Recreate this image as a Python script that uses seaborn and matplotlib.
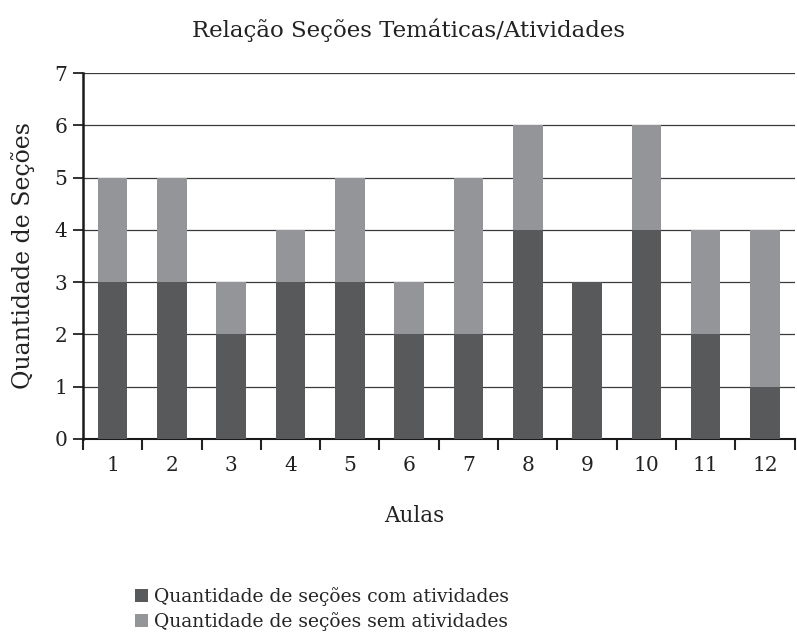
import matplotlib
matplotlib.use("Agg")
import matplotlib.pyplot as plt
import seaborn as sns
import pandas as pd
from matplotlib.patches import Patch

aulas = ["1", "2", "3", "4", "5", "6", "7", "8", "9", "10", "11", "12"]
com_atividades = [3, 3, 2, 3, 3, 2, 2, 4, 3, 4, 2, 1]
sem_atividades = [2, 2, 1, 1, 2, 1, 3, 2, 0, 2, 2, 3]
yticks = [0, 1, 2, 3, 4, 5, 6, 7]

title = "Relação Seções Temáticas/Atividades"
xlabel = "Aulas"
ylabel = "Quantidade de Seções"
leg_com = "Quantidade de seções com atividades"
leg_sem = "Quantidade de seções sem atividades"

dark = "#58595b"
light = "#939598"

sns.set_theme(style="white")
plt.rcParams["font.family"] = ["DejaVu Serif"]

df = pd.DataFrame({
    "aula": aulas,
    "com": com_atividades,
    "total": [a + b for a, b in zip(com_atividades, sem_atividades)],
})

fig = plt.figure(figsize=(7.97, 6.36), dpi=100)
ax = fig.add_axes([0.104, 0.31, 0.893, 0.575])

sns.barplot(data=df, x="aula", y="total", order=aulas, color=light,
            saturation=1, width=0.5, ax=ax, zorder=3, linewidth=0, edgecolor="none")
sns.barplot(data=df, x="aula", y="com", order=aulas, color=dark,
            saturation=1, width=0.5, ax=ax, zorder=4, linewidth=0, edgecolor="none")

ax.set_ylim(0, 7)
ax.set_xlim(-0.5, 11.5)
ax.set_yticks(yticks)
ax.set_yticklabels([str(v) for v in yticks], fontsize=14.5, color="#222222")
ax.yaxis.grid(True, color="#3a3a3a", linewidth=0.9, zorder=0)
ax.set_axisbelow(True)

# x ticks at category boundaries, labels centered
ax.set_xticks([i + 0.5 for i in range(-1, 12)], minor=False)
ax.set_xticklabels([""] * 13)
ax.set_xticks(range(12), minor=True)
ax.set_xticklabels(aulas, minor=True, fontsize=14.5, color="#222222")
ax.tick_params(axis="x", which="major", direction="out", length=8, width=1.5,
               color="#222222", bottom=True)
ax.tick_params(axis="x", which="minor", length=0, pad=12, bottom=True)
ax.tick_params(axis="y", which="major", direction="out", length=7, width=1.3,
               color="#222222", left=True, pad=4)

for s in ["top", "right"]:
    ax.spines[s].set_visible(False)
ax.spines["left"].set_color("#1a1a1a")
ax.spines["left"].set_linewidth(1.8)
ax.spines["bottom"].set_color("#1a1a1a")
ax.spines["bottom"].set_linewidth(1.5)

ax.set_xlabel(xlabel, fontsize=15.5, color="#222222")
ax.xaxis.set_label_coords(0.465, -0.18)
ax.set_ylabel(ylabel, fontsize=17, labelpad=14, color="#222222")
fig.text(0.512, 0.952, title, ha="center", va="center", fontsize=16.5, color="#222222")

handles = [Patch(facecolor=dark, edgecolor="none", label=leg_com),
           Patch(facecolor=light, edgecolor="none", label=leg_sem)]
fig.legend(handles=handles, loc="upper left", bbox_to_anchor=(0.16, 0.088),
           frameon=False, fontsize=13.5, handlelength=0.7, handleheight=0.7,
           handletextpad=0.3, labelspacing=0.3, borderaxespad=0)

fig.savefig("out.png", dpi=100, facecolor="white")
